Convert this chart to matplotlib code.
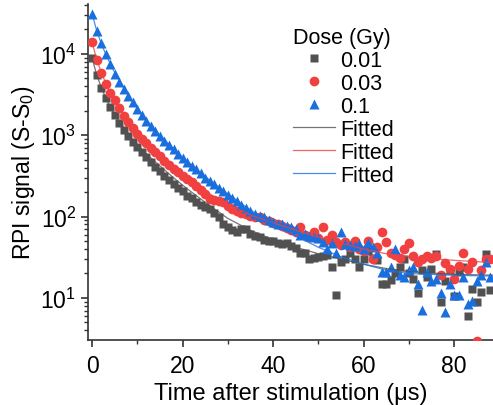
import numpy as np
import matplotlib
matplotlib.use("Agg")
import matplotlib.pyplot as plt
from matplotlib.ticker import LogLocator, MultipleLocator, NullFormatter

plt.rcParams['font.family'] = ['Liberation Sans', 'DejaVu Sans']
plt.rcParams['mathtext.fontset'] = 'custom'
plt.rcParams['mathtext.rm'] = 'Liberation Sans'
plt.rcParams['mathtext.it'] = 'Liberation Sans:italic'
plt.rcParams['mathtext.default'] = 'regular'

time_us = list(range(0, 89))

signal_001 = [8900, 5500, 3800, 2900, 2200, 1750, 1420, 1170, 980, 830,
              720, 620, 540, 470, 410, 360, 320, 280, 250, 225,
              205, 180, 170, 150, 140, 130, 124, 110, 100, 80,
              74, 68, 65, 70, 71, 62, 58, 56, 52, 50,
              50, 48, 46, 47, 44, 41, 36, 36, 30, 31,
              32, 33, 34, 24, 11, 28, 30, 36, 30, 24,
              30, 38, 31, 29, 15, 15, 16.5, 20, 24, 30,
              20, 17, 11.6, 22, 18, 23, 35, 9, 16, 22,
              10.5, 21, 24, 6, 13, 9, 12, 35, 12.6]

signal_003 = [14000, 8400, 5900, 4300, 3300, 2700, 2170, 1740, 1450, 1230,
              1050, 900, 800, 700, 620, 550, 480, 430, 390, 350,
              320, 290, 265, 240, 215, 190, 165, 158, 155, 150,
              135, 124, 118, 112, 107, 103, 100, 98, 92, 88,
              84, 81, 77, 72, 68, 65, 74, 60, 56, 65,
              55, 74, 52, 59, 49, 45, 49, 42, 50, 40,
              38, 50, 30, 42, 65, 49, 36, 34, 31, 40,
              47, 33, 28, 30, 33, 31, 33, 19, 27, 23,
              17, 25, 36, 23, 27.5, 3, 22, 30, 30]

signal_01 = [31000, 19000, 13700, 10000, 7500, 5700, 4500, 3700, 3050, 2570,
             2100, 1780, 1500, 1300, 1130, 980, 860, 760, 670, 590,
             530, 470, 420, 380, 340, 300, 275, 250, 225, 205,
             185, 170, 155, 140, 128, 118, 108, 102, 100, 92,
             86, 81, 80, 76, 74, 70, 59, 62, 57, 56,
             55, 49, 40, 48, 36, 65, 46, 45, 44, 46,
             40, 47, 42, 36, 21, 21, 24, 40, 19, 18,
             22, 24, 15, 7.2, 21, 16, 17, 11.5, 6.8, 15,
             11, 11, 18, 8.5, 9.2, 16, 19, 27.5, 18]

fit_time = [0, 1, 2, 3, 4, 5, 6, 8, 10, 12, 15, 18, 21, 25, 30, 35, 40, 45, 50, 55, 60, 65, 70, 80, 90]
fit_001 = [8900, 5600, 3900, 2900, 2250, 1800, 1450, 1000, 760, 590, 420, 300, 220, 150, 95, 68, 52, 42, 35, 30, 26, 23, 21, 19.5, 19]
fit_003 = [14000, 8600, 6000, 4400, 3400, 2700, 2200, 1500, 1080, 810, 560, 400, 290, 205, 140, 105, 84, 68, 56, 47, 40, 35, 32, 29, 27]
fit_01 = [31000, 19500, 13500, 10000, 7600, 5900, 4700, 3100, 2150, 1550, 1000, 680, 480, 310, 190, 120, 82, 58, 42, 32, 26, 22, 20, 19, 18.5]

dose_labels = ['0.01', '0.03', '0.1']
c_gray, c_red, c_blue = '#515151', '#F14040', '#1A6FDF'

fig = plt.figure(figsize=(4.93, 4.06), dpi=100)
ax = fig.add_axes([0.1785, 0.160, 0.8215, 0.828])

ax.plot(time_us, signal_001, 's', color=c_gray, ms=6, mec='none', label=dose_labels[0], zorder=3)
ax.plot(time_us, signal_003, 'o', color=c_red, ms=7, mec='none', label=dose_labels[1], zorder=3)
ax.plot(time_us, signal_01, '^', color=c_blue, ms=7, mec='none', label=dose_labels[2], zorder=3)
ax.plot(fit_time, fit_001, '-', color=c_gray, lw=0.9, alpha=0.8, label='Fitted', zorder=4)
ax.plot(fit_time, fit_003, '-', color=c_red, lw=0.9, alpha=0.8, label='Fitted', zorder=4)
ax.plot(fit_time, fit_01, '-', color=c_blue, lw=0.9, alpha=0.8, label='Fitted', zorder=4)

ax.set_yscale('log')
ax.set_xlim(-0.9, 88.6)
ax.set_ylim(3.04, 41200)
ax.xaxis.set_major_locator(MultipleLocator(20))
ax.xaxis.set_minor_locator(MultipleLocator(10))
ax.yaxis.set_major_locator(LogLocator(base=10, numticks=10))
ax.yaxis.set_minor_locator(LogLocator(base=10, subs=np.arange(2, 10), numticks=20))
ax.yaxis.set_minor_formatter(NullFormatter())

for s in ['top', 'right']:
    ax.spines[s].set_visible(False)
for s in ['left', 'bottom']:
    ax.spines[s].set_linewidth(1.2)
    ax.spines[s].set_color('#333333')
ax.tick_params(which='major', direction='out', length=5, width=1.2, color='#333333', labelsize=16.5)
ax.tick_params(axis='x', which='major', pad=5)
ax.tick_params(which='minor', direction='out', length=3, width=1.0, color='#333333')

ax.set_xlabel('Time after stimulation (\u03bcs)', fontsize=17, labelpad=4)
ax.set_ylabel('RPI signal (S-S$_0$)', fontsize=16.5, labelpad=2)

leg = fig.legend(loc='upper left', bbox_to_anchor=(0.594, 0.931), frameon=False,
                 title='Dose (Gy)', fontsize=15.5, title_fontsize=15.5,
                 handlelength=1.95, handletextpad=0.25, labelspacing=0.09,
                 borderpad=0, borderaxespad=0, alignment='left')

fig.savefig('out.png', dpi=100)
